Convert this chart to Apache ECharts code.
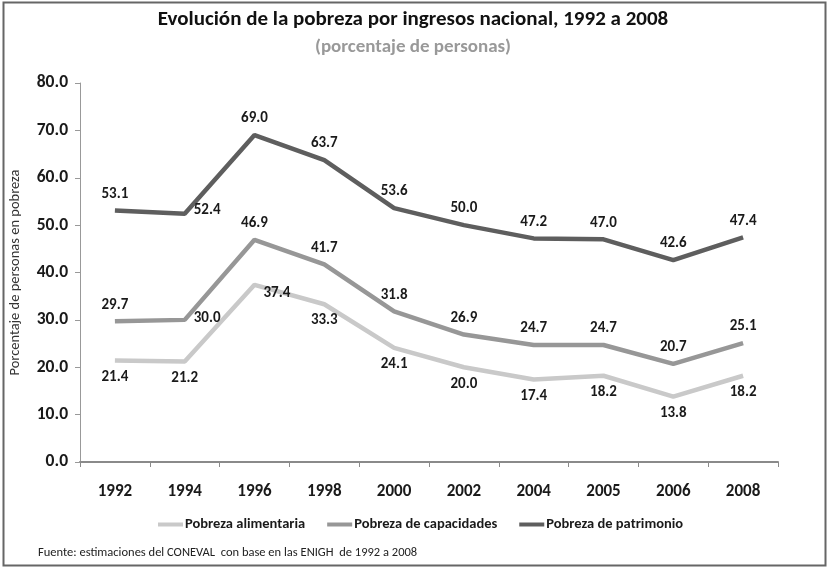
<!DOCTYPE html>
<html>
<head>
<meta charset="utf-8">
<script src="https://cdn.jsdelivr.net/npm/echarts@6/dist/echarts.min.js"></script>
<style>
  html, body { margin: 0; padding: 0; background: #fff; }
  #main { width: 833px; height: 571px; }
</style>
</head>
<body>
<div id="main"></div>
<script>
// datos
var years = ['1992', '1994', '1996', '1998', '2000', '2002', '2004', '2005', '2006', '2008'];
var alimentaria = [21.4, 21.2, 37.4, 33.3, 24.1, 20.0, 17.4, 18.2, 13.8, 18.2];
var capacidades = [29.7, 30.0, 46.9, 41.7, 31.8, 26.9, 24.7, 24.7, 20.7, 25.1];
var patrimonio = [53.1, 52.4, 69.0, 63.7, 53.6, 50.0, 47.2, 47.0, 42.6, 47.4];

var FONT = "Carlito, 'Liberation Sans Narrow', 'Liberation Sans', sans-serif";

// etiquetas: posicion por punto
function mkData(values, special) {
  return values.map(function (v, i) {
    var d = { value: v };
    if (special[i]) d.label = special[i];
    return d;
  });
}

var labelBase = {
  show: true,
  fontFamily: FONT,
  fontWeight: 'bold',
  fontSize: 15,
  color: '#1a1a1a',
  formatter: function (p) { return p.value.toFixed(1); }
};

function line(name, values, color, pos, special) {
  return {
    name: name,
    type: 'line',
    data: mkData(values, special),
    symbol: 'circle',
    symbolSize: 0,
    lineStyle: { color: color, width: 4.5 },
    itemStyle: { color: color },
    label: Object.assign({}, labelBase, { position: pos, distance: 9 }),
    emphasis: { disabled: true },
    z: 3
  };
}

var chart = echarts.init(document.getElementById('main'));
chart.setOption({
  animation: false,
  title: {
    text: 'Evolución de la pobreza por ingresos nacional, 1992 a 2008',
    subtext: '(porcentaje de personas)',
    left: 408,
    textAlign: 'center',
    top: 4,
    itemGap: 8,
    textStyle: { fontFamily: FONT, fontSize: 21, fontWeight: 'bold', color: '#111' },
    subtextStyle: { fontFamily: FONT, fontSize: 19, fontWeight: 'bold', color: '#999' }
  },
  graphic: [{
    type: 'rect',
    shape: { x: 3.5, y: 2.5, width: 822, height: 563 },
    style: { fill: 'none', stroke: '#666', lineWidth: 2 },
    silent: true
  }, {
    type: 'text',
    left: 38,
    top: 546,
    style: {
      text: 'Fuente: estimaciones del CONEVAL  con base en las ENIGH  de 1992 a 2008',
      fontFamily: FONT, fontSize: 12.5, fill: '#222'
    }
  }],
  legend: {
    bottom: 34,
    left: 153,
    itemGap: 22,
    itemWidth: 25,
    itemHeight: 4,
    icon: 'rect',
    textStyle: { fontFamily: FONT, fontWeight: 'bold', fontSize: 14.5, color: '#1a1a1a', padding: [0, 0, 0, -3] },
    data: ['Pobreza alimentaria', 'Pobreza de capacidades', 'Pobreza de patrimonio']
  },
  grid: { left: 73, right: 55, top: 83, bottom: 109 },
  xAxis: {
    type: 'category',
    data: years,
    boundaryGap: true,
    axisLine: { lineStyle: { color: '#8a8a8a', width: 2 } },
    axisTick: { show: true, length: 5, lineStyle: { color: '#8a8a8a' } },
    axisLabel: { fontFamily: FONT, fontWeight: 'bold', fontSize: 17, color: '#1a1a1a', margin: 21 }
  },
  yAxis: {
    type: 'value',
    min: 0,
    max: 80,
    interval: 10,
    name: 'Porcentaje de personas en pobreza',
    nameLocation: 'middle',
    nameGap: 57,
    nameTextStyle: { fontFamily: FONT, fontSize: 14.5, color: '#333' },
    axisLine: { show: true, lineStyle: { color: '#999', width: 1 } },
    axisTick: { show: true, inside: false, length: 5, lineStyle: { color: '#999' } },
    splitLine: { show: false },
    axisLabel: {
      fontFamily: FONT, fontWeight: 'bold', fontSize: 17.5, color: '#1a1a1a', margin: 12,
      formatter: function (v) { return v.toFixed(1); }
    }
  },
  series: [
    line('Pobreza alimentaria', alimentaria, '#c9c9c9', 'bottom',
      { 2: { position: 'right', offset: [0, 8] } }),
    line('Pobreza de capacidades', capacidades, '#979797', 'top',
      { 1: { position: 'right', offset: [0, -2] } }),
    line('Pobreza de patrimonio', patrimonio, '#5e5e5e', 'top',
      { 1: { position: 'right', offset: [0, -4] } })
  ]
});
</script>
</body>
</html>
